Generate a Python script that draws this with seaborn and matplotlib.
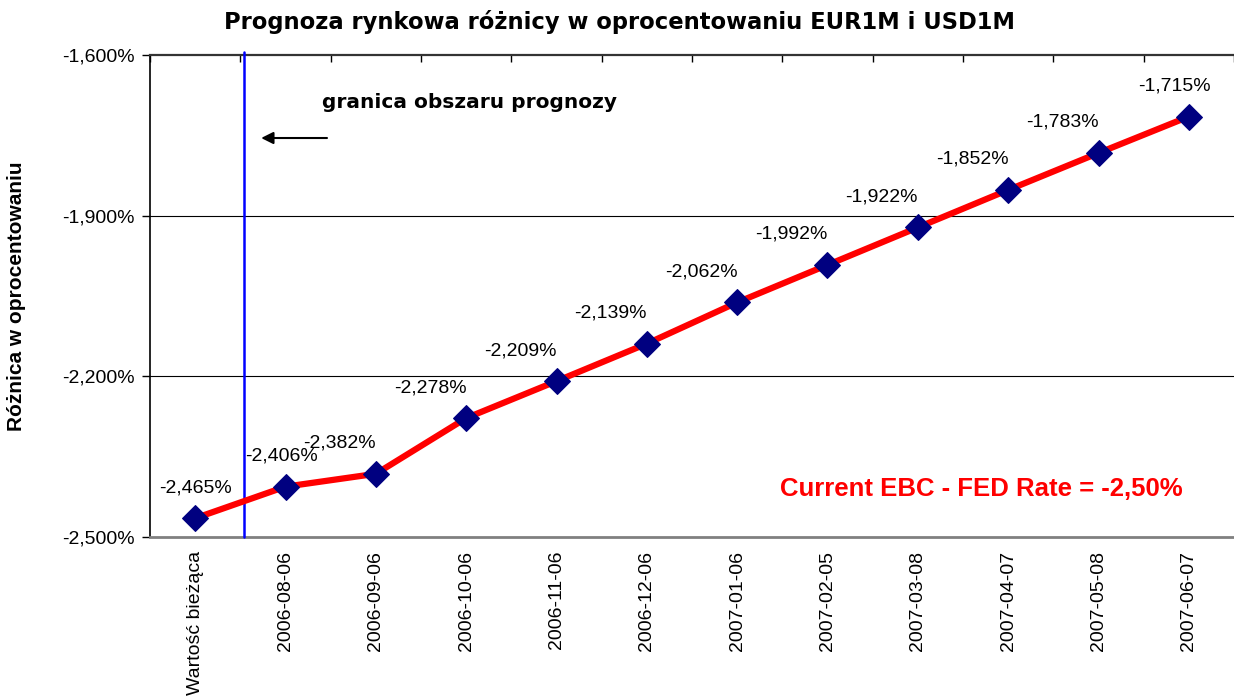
import numpy as np
import matplotlib
matplotlib.use('Agg')
import matplotlib.pyplot as plt
import seaborn as sns
from matplotlib.ticker import FuncFormatter

# ── Data ──────────────────────────────────────────────────────────────────────
dates = ['Wartość bieżąca', '2006-08-06', '2006-09-06', '2006-10-06', '2006-11-06',
         '2006-12-06', '2007-01-06', '2007-02-05', '2007-03-08', '2007-04-07',
         '2007-05-08', '2007-06-07']
spread = [-2.465, -2.406, -2.382, -2.278, -2.209, -2.139, -2.062, -1.992,
          -1.922, -1.852, -1.783, -1.715]
y_ticks = [-2.5, -2.2, -1.9, -1.6]
current_rate = '-2,50%'

sns.set_theme(style='white')
plt.rcParams['font.family'] = ['Liberation Sans', 'DejaVu Sans']
plt.rcParams['text.color'] = 'black'
plt.rcParams['axes.labelcolor'] = 'black'
plt.rcParams['xtick.color'] = 'black'
plt.rcParams['ytick.color'] = 'black'

fig = plt.figure(figsize=(12.34, 6.99), dpi=100)
ax = fig.add_axes([150 / 1234, 162 / 699, 1084 / 1234, 482 / 699])

pos = np.arange(len(dates))
sns.lineplot(x=pos, y=spread, color='#ff0000', lw=4.5, marker='D', markersize=13,
             markerfacecolor='#000080', markeredgecolor='#000080', ax=ax, zorder=5)

# data labels (Excel places them up and to the left)
dx = [0, -4] + [-36] * 9 + [-14]
for i, v in enumerate(spread):
    ax.annotate(f'{v:.3f}%'.replace('.', ','), (i, v), xytext=(dx[i] * 0.72, 22),
                textcoords='offset points', ha='center', va='center', fontsize=14)

ax.set_xlim(-0.5, len(dates) - 0.5)
ax.set_ylim(-2.5, -1.6)
ax.set_yticks(y_ticks)
ax.yaxis.set_major_formatter(FuncFormatter(lambda v, _: f'{v:.3f}%'.replace('.', ',')))
ax.set_xticks(pos)
ax.set_xticklabels(dates, rotation=90, fontsize=14)
ax.set_xticks(np.arange(-0.5, len(dates), 1), minor=True)
ax.tick_params(axis='x', which='major', length=0, pad=10)
ax.tick_params(axis='x', which='minor', top=True, bottom=False, direction='in',
               length=5, width=1, color='black')
ax.tick_params(axis='y', left=True, length=6, width=1, color='black', labelsize=14, pad=5)

for t in y_ticks[1:3]:
    ax.axhline(t, color='black', lw=0.8, zorder=1)
ax.spines['right'].set_visible(False)
ax.spines['top'].set_color('#333333')
ax.spines['top'].set_linewidth(1.6)
ax.spines['left'].set_color('black')
ax.spines['left'].set_linewidth(1.2)
ax.spines['bottom'].set_color('#808080')
ax.spines['bottom'].set_linewidth(2)

# forecast boundary
ax.plot([0.54, 0.54], [-2.5, -1.595], color='#0000ff', lw=1.8, clip_on=False, zorder=3)
ax.annotate('', xy=(0.70, -1.755), xytext=(1.49, -1.755),
            arrowprops=dict(arrowstyle='-|>', color='black', lw=1.5, mutation_scale=18))
ax.text(1.40, -1.688, 'granica obszaru prognozy', fontsize=14.5, fontweight='bold',
        family='DejaVu Sans', ha='left', va='center')
ax.text(8.70, -2.41, f'Current EBC - FED Rate = {current_rate}', fontsize=18.5,
        fontweight='bold', color='#ff0000', ha='center', va='center')

ax.set_ylabel('Różnica w oprocentowaniu', fontsize=15, fontweight='bold', labelpad=26)
ax.set_xlabel('')
fig.text(0.502, 1 - 22 / 699, 'Prognoza rynkowa różnicy w oprocentowaniu EUR1M i USD1M',
         ha='center', va='center', fontsize=16.3, fontweight='bold', family='DejaVu Sans')

plt.savefig('out.png', dpi=100)
plt.close()
